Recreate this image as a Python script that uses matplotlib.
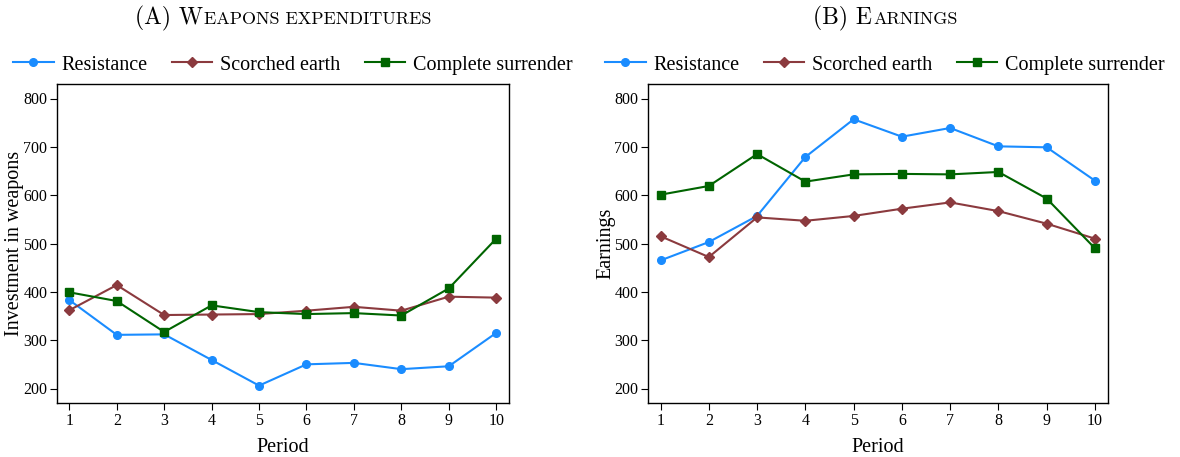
import matplotlib
matplotlib.use("Agg")
import matplotlib.pyplot as plt
from matplotlib.offsetbox import TextArea, HPacker, AnchoredOffsetbox

periods = [1, 2, 3, 4, 5, 6, 7, 8, 9, 10]

# Panel A: investment in weapons
weap_resistance = [383, 311, 312, 259, 206, 250, 253, 240, 246, 315]
weap_scorched = [362, 414, 352, 353, 354, 361, 369, 361, 390, 388]
weap_surrender = [399, 381, 317, 372, 358, 354, 356, 351, 407, 510]

# Panel B: earnings
earn_resistance = [465, 503, 557, 679, 757, 721, 739, 701, 699, 630]
earn_scorched = [515, 472, 554, 547, 557, 572, 585, 567, 541, 510]
earn_surrender = [601, 619, 685, 628, 643, 644, 643, 648, 593, 490]

series_names = ["Resistance", "Scorched earth", "Complete surrender"]
colors = ["#1a8cff", "#8b3a3e", "#006400"]
markers = ["o", "D", "s"]

plt.rcParams["font.family"] = ["Liberation Serif", "DejaVu Serif"]

fig = plt.figure(figsize=(11.8, 4.57), dpi=100)
W, H = 1180, 457
axA = fig.add_axes([57 / W, 54 / H, 452 / W, 319 / H])
axB = fig.add_axes([648 / W, 54 / H, 460 / W, 319 / H])


def draw(ax, data, ylabel, title_big, title_small, legend_x, title_x, ylab_x):
    for vals, name, c, m in zip(data, series_names, colors, markers):
        ax.plot(periods, vals, color=c, marker=m, lw=1.5,
                ms=5.5 if m != "D" else 5, label=name)
    ax.set_ylim(170, 830)
    ax.set_xlim(0.74, 10.27)
    ax.set_xticks(periods)
    ax.set_yticks([200, 300, 400, 500, 600, 700, 800])
    ax.tick_params(labelsize=11.5, length=5, width=0.8, direction="out", pad=2)
    ax.set_xlabel("Period", fontsize=14.5, labelpad=7)
    ax.set_ylabel(ylabel, fontsize=14.5)
    ax.yaxis.set_label_coords(ylab_x, 0.5)
    for s in ax.spines.values():
        s.set_linewidth(1.0)
    ax.legend(loc="center", bbox_to_anchor=(legend_x, 1 + 19 / 319), ncol=3,
              frameon=False, fontsize=14.5, handlelength=2.0,
              columnspacing=1.2, handletextpad=0.4, borderaxespad=0,
              borderpad=0)
    # small caps title built from two sizes
    t1 = TextArea(title_big, textprops=dict(family="cmr10", size=17))
    t2 = TextArea(title_small, textprops=dict(family="cmr10", size=13))
    box = HPacker(children=[t1, t2], align="baseline", pad=0, sep=1)
    anch = AnchoredOffsetbox(loc="center", child=box, frameon=False,
                             bbox_to_anchor=(title_x, 1 + 66 / 319),
                             bbox_transform=ax.transAxes, pad=0, borderpad=0)
    ax.add_artist(anch)


draw(axA, [weap_resistance, weap_scorched, weap_surrender],
     "Investment in weapons", "(A) W", "EAPONS EXPENDITURES",
     (293 - 57) / 452, (283 - 57) / 452, (24 - 57) / 452)
draw(axB, [earn_resistance, earn_scorched, earn_surrender],
     "Earnings", "(B) E", "ARNINGS",
     (885 - 648) / 460, (885 - 648) / 460, (615 - 648) / 460)

fig.savefig("out.png", dpi=100)
